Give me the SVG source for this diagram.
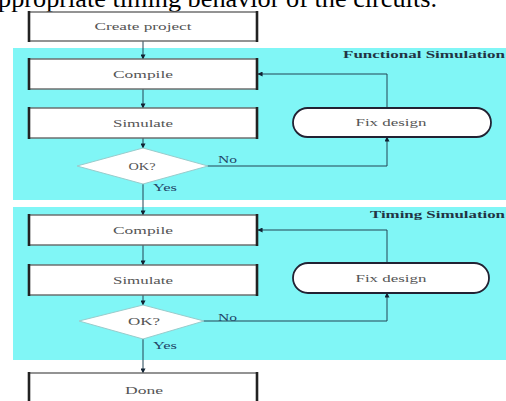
<svg xmlns="http://www.w3.org/2000/svg" width="506" height="401" viewBox="0 0 506 401">
<style>
.band{fill:#80f6f6}
.box{fill:#fff;stroke:#666;stroke-width:1.4}
.side{stroke:#222;stroke-width:2.6}
.lbl{font-family:"Liberation Serif",serif;font-size:11px;fill:#555;text-anchor:middle}
.ttl{font-family:"Liberation Serif",serif;font-size:11px;font-weight:bold;fill:#234}
.yn{font-family:"Liberation Serif",serif;font-size:10px;fill:#246}
.ln{fill:none;stroke:#245;stroke-width:1}
.dia{fill:#fff;stroke:#9cc;stroke-width:1}
.fix{fill:#fff;stroke:#223;stroke-width:1.8}
</style>
<defs>
<marker id="ah" viewBox="0 0 6 6" refX="5.5" refY="3" markerWidth="5" markerHeight="5" orient="auto" markerUnits="userSpaceOnUse">
<path d="M0,0 L6,3 L0,6 z" fill="#123"/>
</marker>
</defs>
<text x="-2" y="7" font-family="Liberation Serif,serif" font-size="26" fill="#000" textLength="439" lengthAdjust="spacingAndGlyphs">ppropriate timing behavior of the circuits.</text>
<rect class="band" x="13" y="48" width="493" height="152"/>
<rect class="band" x="13" y="207" width="493" height="153"/>
<text class="ttl" x="343" y="58" textLength="162" lengthAdjust="spacingAndGlyphs">Functional Simulation</text>
<text class="ttl" x="370" y="218" textLength="135" lengthAdjust="spacingAndGlyphs">Timing Simulation</text>
<g id="connectors">
<line class="ln" x1="143" y1="41" x2="143" y2="59" marker-end="url(#ah)"/>
<line class="ln" x1="143" y1="89" x2="143" y2="108" marker-end="url(#ah)"/>
<line class="ln" x1="143" y1="138" x2="143" y2="148" marker-end="url(#ah)"/>
<line class="ln" x1="143" y1="184" x2="143" y2="215" marker-end="url(#ah)"/>
<line class="ln" x1="143" y1="245" x2="143" y2="265" marker-end="url(#ah)"/>
<line class="ln" x1="143" y1="295" x2="143" y2="305" marker-end="url(#ah)"/>
<line class="ln" x1="143" y1="339" x2="143" y2="373" marker-end="url(#ah)"/>
<polyline class="ln" points="207,166 387,166 387,137" marker-end="url(#ah)"/>
<polyline class="ln" points="387,108 387,74 258,74" marker-end="url(#ah)"/>
<polyline class="ln" points="203,321 387,321 387,293" marker-end="url(#ah)"/>
<polyline class="ln" points="387,263 387,230 258,230" marker-end="url(#ah)"/>
<text class="yn" x="218" y="163" textLength="19" lengthAdjust="spacingAndGlyphs">No</text>
<text class="yn" x="153" y="191" textLength="24" lengthAdjust="spacingAndGlyphs">Yes</text>
<text class="yn" x="218" y="321" textLength="19" lengthAdjust="spacingAndGlyphs">No</text>
<text class="yn" x="153" y="349" textLength="24" lengthAdjust="spacingAndGlyphs">Yes</text>
</g>
<g id="create">
<rect class="box" x="29" y="12" width="228" height="29"/>
<line class="side" x1="29" y1="11" x2="29" y2="42"/><line class="side" x1="257" y1="11" x2="257" y2="42"/>
<text class="lbl" x="143" y="30" textLength="97" lengthAdjust="spacingAndGlyphs">Create project</text>
</g>
<g id="compile1">
<rect class="box" x="29" y="59" width="228" height="30"/>
<line class="side" x1="29" y1="58" x2="29" y2="90"/><line class="side" x1="257" y1="58" x2="257" y2="90"/>
<text class="lbl" x="143" y="78" textLength="60" lengthAdjust="spacingAndGlyphs">Compile</text>
</g>
<g id="simulate1">
<rect class="box" x="29" y="108" width="228" height="30"/>
<line class="side" x1="29" y1="107" x2="29" y2="139"/><line class="side" x1="257" y1="107" x2="257" y2="139"/>
<text class="lbl" x="143" y="127" textLength="60" lengthAdjust="spacingAndGlyphs">Simulate</text>
</g>
<g id="ok1">
<polygon class="dia" points="143,148 208,166 143,184 77,166"/>
<text class="lbl" x="142" y="170" textLength="27" lengthAdjust="spacingAndGlyphs">OK?</text>
</g>
<g id="fix1">
<rect class="fix" x="293" y="108" width="198" height="29" rx="14.5" ry="14.5"/>
<text class="lbl" x="391" y="126" textLength="71" lengthAdjust="spacingAndGlyphs">Fix design</text>
</g>
<g id="compile2">
<rect class="box" x="29" y="215" width="228" height="30"/>
<line class="side" x1="29" y1="214" x2="29" y2="246"/><line class="side" x1="257" y1="214" x2="257" y2="246"/>
<text class="lbl" x="143" y="234" textLength="60" lengthAdjust="spacingAndGlyphs">Compile</text>
</g>
<g id="simulate2">
<rect class="box" x="29" y="265" width="228" height="30"/>
<line class="side" x1="29" y1="264" x2="29" y2="296"/><line class="side" x1="257" y1="264" x2="257" y2="296"/>
<text class="lbl" x="143" y="284" textLength="60" lengthAdjust="spacingAndGlyphs">Simulate</text>
</g>
<g id="ok2">
<polygon class="dia" points="143,305 204,321 143,339 79,321"/>
<text class="lbl" x="144" y="325" textLength="32" lengthAdjust="spacingAndGlyphs">OK?</text>
</g>
<g id="fix2">
<rect class="fix" x="293" y="263" width="196" height="30" rx="15" ry="15"/>
<text class="lbl" x="391" y="282" textLength="71" lengthAdjust="spacingAndGlyphs">Fix design</text>
</g>
<g id="done">
<rect class="box" x="29" y="373" width="228" height="35"/>
<line class="side" x1="29" y1="372" x2="29" y2="402"/><line class="side" x1="257" y1="372" x2="257" y2="402"/>
<text class="lbl" x="144" y="394" textLength="38" lengthAdjust="spacingAndGlyphs">Done</text>
</g>
</svg>
